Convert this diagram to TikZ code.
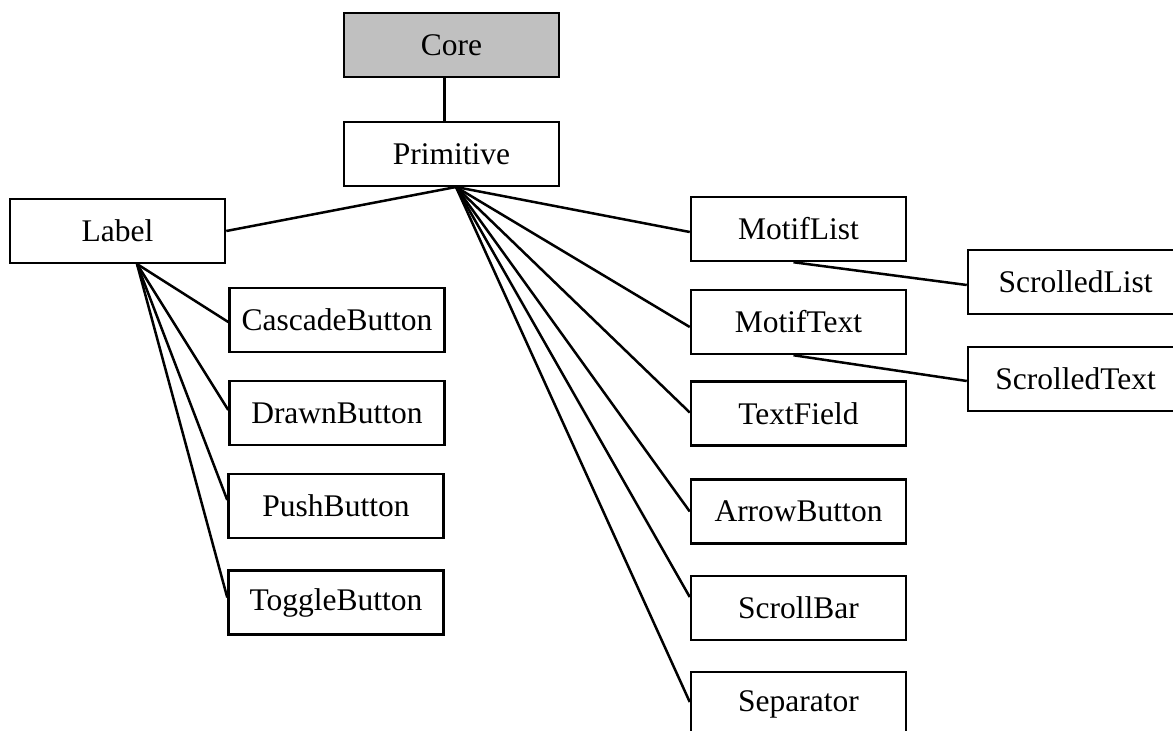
\documentclass[tikz,border=0pt]{standalone}
\usepackage{fontspec}
\setmainfont{Liberation Serif}
\definecolor{coregray}{RGB}{192,192,192}
\tikzset{every picture/.style={line width=2.5pt}}
\tikzset{widget/.style={draw, inner sep=0pt, minimum width=215pt, minimum height=64pt, font=\fontsize{31.5}{37}\selectfont}}

\begin{document}
\begin{tikzpicture}[x=1pt,y=1pt,yscale=-1,xscale=1]
\clip (0,0) rectangle (1173,731);

%Top
\node[widget, fill=coregray] (core) at (451.5,45) {Core};
\node[widget] (primitive) at (451.5,154) {Primitive};
\coordinate (pfan) at (456,187);

%Left branch
\node[widget] (label) at (117.5,231) {Label};
\coordinate (lfan) at (137,264);
\node[widget] (cascade) at (337,320) {CascadeButton};
\node[widget] (drawn) at (337,413) {DrawnButton};
\node[widget] (push) at (336,506) {PushButton};
\node[widget] (toggle) at (336,602.5) {ToggleButton};

%Right branch
\node[widget] (motiflist) at (798.5,229) {MotifList};
\node[widget] (motiftext) at (798.5,322) {MotifText};
\node[widget] (textfield) at (798.5,413.5) {TextField};
\node[widget] (arrowbtn) at (798.5,511.5) {ArrowButton};
\node[widget] (scrollbar) at (798.5,608) {ScrollBar};
\node[widget] (separator) at (798.5,704) {Separator};
\node[widget] (scrolledlist) at (1075.5,282) {ScrolledList};
\node[widget] (scrolledtext) at (1075.5,379) {ScrolledText};

%Lines (offsets down the page)
\draw ([xshift=-7pt]core.south) -- ([xshift=-7pt]primitive.north);
\draw (pfan) -- (label.east);
\foreach \n/\dy in {motiflist/3,motiftext/5,textfield/-1,arrowbtn/0,scrollbar/-11,separator/-2}
  \draw (pfan) -- ([yshift=\dy pt]\n.west);
\foreach \n/\dy in {cascade/2,drawn/-3,push/-6,toggle/-5}
  \draw (lfan) -- ([yshift=\dy pt]\n.west);
\draw ([xshift=-5pt]motiflist.south) -- ([yshift=3pt]scrolledlist.west);
\draw ([xshift=-5pt]motiftext.south) -- ([yshift=2pt]scrolledtext.west);

\end{tikzpicture}
\end{document}
